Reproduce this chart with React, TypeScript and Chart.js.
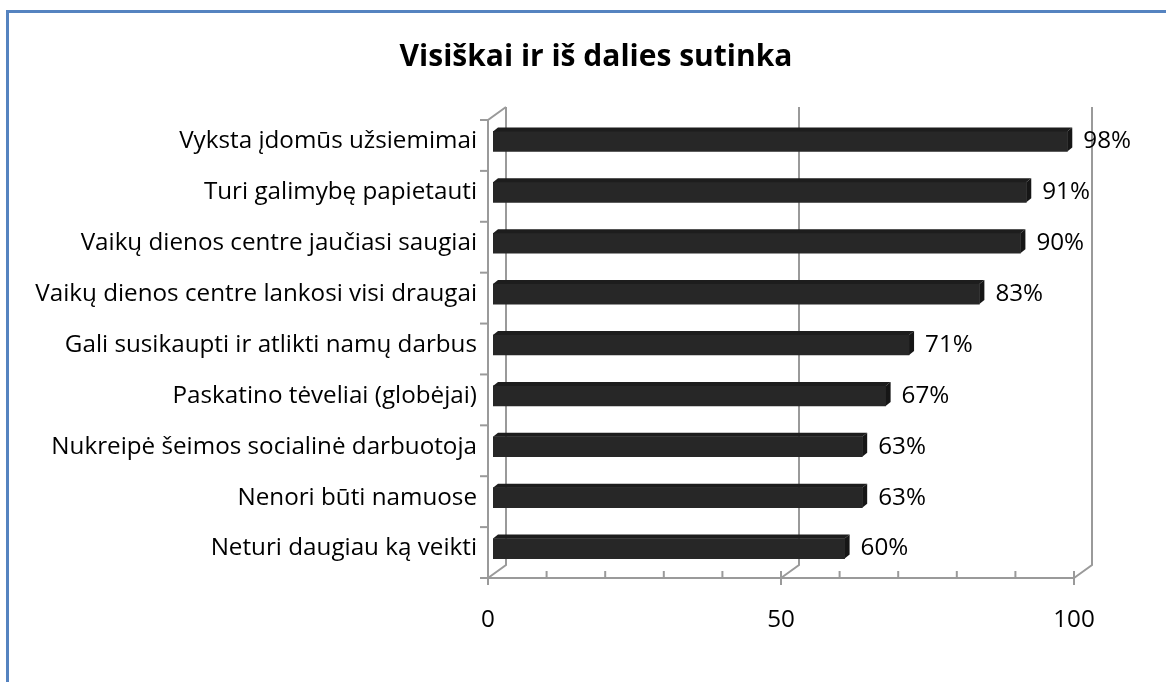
import React, { useEffect, useRef } from "react";
import { Chart, registerables } from "chart.js";

Chart.register(...registerables);

const TITLE = "Visiškai ir iš dalies sutinka";
const categories = [
  "Vyksta įdomūs užsiemimai",
  "Turi galimybę papietauti",
  "Vaikų dienos centre jaučiasi saugiai",
  "Vaikų dienos centre lankosi visi draugai",
  "Gali susikaupti ir atlikti namų darbus",
  "Paskatino tėveliai (globėjai)",
  "Nukreipė šeimos socialinė darbuotoja",
  "Nenori būti namuose",
  "Neturi daugiau ką veikti",
];
const values = [98, 91, 90, 83, 71, 67, 63, 63, 60];
const majorTicks = [0, 50, 100];
const minorStep = 10;

const FONT = "'Open Sans'";
const GRID = "#9a9a9a";
// depth offsets relative to bar plane
const FRONT = { dx: -5, dy: 4 };
const BACK = { dx: 13, dy: -9 };
const BAR_DEPTH = { dx: 5, dy: -4 };

function fitSize(ctx: any, text: string, target: number, weight: string) {
  ctx.font = `${weight} 20px ${FONT}`;
  const w = ctx.measureText(text).width;
  return (20 * target) / w;
}

let labelSize = 20;

const threeD = {
  id: "threeD",
  beforeDatasetsDraw(chart: any) {
    const ctx = chart.ctx;
    const xs = chart.scales.x;
    const ys = chart.scales.y;
    const ca = chart.chartArea;
    const n = categories.length;
    ctx.save();
    // blue frame
    ctx.strokeStyle = "#5583c0";
    ctx.lineWidth = 3;
    ctx.beginPath();
    ctx.moveTo(7.5, 700);
    ctx.lineTo(7.5, 11.5);
    ctx.lineTo(1200, 11.5);
    ctx.stroke();

    // title
    const tSize = fitSize(ctx, TITLE, 393, "bold");
    ctx.fillStyle = "#000";
    ctx.font = `bold ${tSize}px ${FONT}`;
    ctx.textAlign = "center";
    ctx.textBaseline = "middle";
    ctx.fillText(TITLE, 596, 57);

    labelSize = fitSize(ctx, categories[3], 442, "normal");

    ctx.strokeStyle = GRID;
    ctx.lineWidth = 2;
    const fx = (v: number) => xs.getPixelForValue(v) + FRONT.dx;
    const bx = (v: number) => xs.getPixelForValue(v) + BACK.dx;
    const fTop = ca.top + FRONT.dy;
    const fBot = ca.bottom + FRONT.dy;
    const bTop = ca.top + BACK.dy;
    const bBot = ca.bottom + BACK.dy;

    // back wall gridlines + floor diagonals
    for (const v of majorTicks) {
      ctx.beginPath();
      ctx.moveTo(bx(v), bTop);
      ctx.lineTo(bx(v), bBot);
      ctx.lineTo(fx(v), fBot);
      ctx.stroke();
    }
    // left wall front edge and top diagonal
    ctx.beginPath();
    ctx.moveTo(bx(0), bTop);
    ctx.lineTo(fx(0), fTop);
    ctx.lineTo(fx(0), fBot);
    ctx.stroke();
    // front bottom axis
    ctx.beginPath();
    ctx.moveTo(fx(0), fBot);
    ctx.lineTo(fx(100), fBot);
    ctx.stroke();
    // category boundary ticks
    for (let i = 0; i <= n; i++) {
      const y = ys.getPixelForValue(i - 0.5) + FRONT.dy;
      ctx.beginPath();
      ctx.moveTo(fx(0) - 8, y);
      ctx.lineTo(fx(0), y);
      ctx.stroke();
    }
    // value ticks
    for (let v = 0; v <= 100; v += minorStep) {
      const major = majorTicks.includes(v);
      ctx.beginPath();
      ctx.moveTo(fx(v), fBot - 7);
      ctx.lineTo(fx(v), fBot + (major ? 7 : 0));
      ctx.stroke();
    }
    // tick labels
    ctx.fillStyle = "#000";
    ctx.font = `${labelSize}px ${FONT}`;
    ctx.textAlign = "center";
    ctx.textBaseline = "middle";
    for (const v of majorTicks) {
      ctx.fillText(String(v), fx(v), 620);
    }
    // category labels
    ctx.textAlign = "right";
    for (let i = 0; i < n; i++) {
      ctx.fillText(categories[i], ca.left - 16, ys.getPixelForValue(i));
    }
    ctx.restore();
  },
  afterDatasetsDraw(chart: any) {
    const ctx = chart.ctx;
    const meta = chart.getDatasetMeta(0);
    ctx.save();
    meta.data.forEach((el: any, i: number) => {
      const top = el.y - el.height / 2;
      const bot = el.y + el.height / 2;
      const x0 = el.base;
      const x1 = el.x;
      ctx.fillStyle = "#1d1d1d";
      ctx.beginPath();
      ctx.moveTo(x0, top);
      ctx.lineTo(x0 + BAR_DEPTH.dx, top + BAR_DEPTH.dy);
      ctx.lineTo(x1 + BAR_DEPTH.dx, top + BAR_DEPTH.dy);
      ctx.lineTo(x1, top);
      ctx.closePath();
      ctx.fill();
      ctx.fillStyle = "#161616";
      ctx.beginPath();
      ctx.moveTo(x1, top);
      ctx.lineTo(x1 + BAR_DEPTH.dx, top + BAR_DEPTH.dy);
      ctx.lineTo(x1 + BAR_DEPTH.dx, bot + BAR_DEPTH.dy);
      ctx.lineTo(x1, bot);
      ctx.closePath();
      ctx.fill();
      ctx.fillStyle = "#000";
      ctx.font = `${labelSize}px ${FONT}`;
      ctx.textAlign = "left";
      ctx.textBaseline = "middle";
      ctx.fillText(values[i] + "%", x1 + 16, el.y);
    });
    ctx.restore();
  },
};

export default function App() {
  const ref = useRef<HTMLCanvasElement>(null);
  useEffect(() => {
    if (!ref.current) return;
    const chart = new Chart(ref.current, {
      type: "bar",
      data: {
        labels: categories,
        datasets: [
          {
            data: values,
            backgroundColor: "#272727",
            barThickness: 20,
          },
        ],
      },
      options: {
        indexAxis: "y",
        animation: false,
        responsive: false,
        layout: { padding: { left: 493, right: 87, top: 116, bottom: 108 } },
        plugins: { legend: { display: false }, tooltip: { enabled: false }, title: { display: false } },
        scales: {
          x: { display: false, min: 0, max: 100 },
          y: { display: false },
        },
      },
      plugins: [threeD],
    });
    return () => chart.destroy();
  }, []);
  return (
    <div style={{ position: "fixed", left: 0, top: 0, width: 1166, height: 682, background: "#fff" }}>
      <canvas ref={ref} width={1166} height={682} />
    </div>
  );
}
